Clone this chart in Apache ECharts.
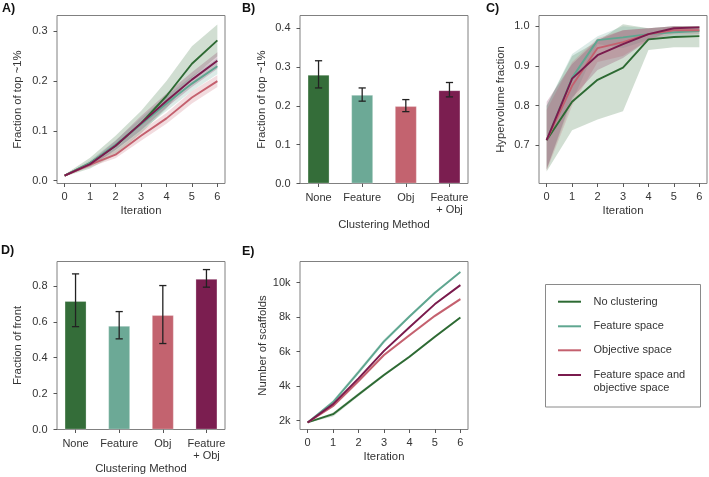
<!DOCTYPE html>
<html>
<head>
<meta charset="utf-8">
<script src="https://cdn.jsdelivr.net/npm/echarts@6/dist/echarts.min.js"></script>
<style>html,body{margin:0;padding:0;background:#fff;}#c{width:709px;height:477px;}</style>
</head>
<body>
<div id="c"></div>
<script>
// ---------- data ----------
const iterations = [0, 1, 2, 3, 4, 5, 6];
const seriesNames = ['No clustering', 'Feature space', 'Objective space', 'Feature space and\nobjective space'];
const barCats = ['None', 'Feature', 'Obj', 'Feature\n+ Obj'];
const barX = [0, 1, 2, 3];

// Panel A: fraction of top ~1% per iteration
const aNone = [0.010, 0.035, 0.070, 0.115, 0.170, 0.235, 0.282];
const aNoneLo = [0.008, 0.024, 0.052, 0.095, 0.145, 0.207, 0.250];
const aNoneHi = [0.012, 0.046, 0.090, 0.140, 0.200, 0.270, 0.314];
const aFeat = [0.010, 0.035, 0.072, 0.113, 0.155, 0.195, 0.230];
const aFeatLo = [0.009, 0.030, 0.062, 0.100, 0.140, 0.180, 0.214];
const aFeatHi = [0.011, 0.041, 0.081, 0.126, 0.170, 0.210, 0.246];
const aObj = [0.010, 0.032, 0.052, 0.090, 0.125, 0.167, 0.200];
const aObjLo = [0.009, 0.027, 0.045, 0.080, 0.114, 0.155, 0.188];
const aObjHi = [0.011, 0.037, 0.060, 0.100, 0.136, 0.180, 0.212];
const aBoth = [0.010, 0.033, 0.070, 0.115, 0.160, 0.203, 0.241];
const aBothLo = [0.009, 0.028, 0.061, 0.101, 0.147, 0.188, 0.225];
const aBothHi = [0.011, 0.038, 0.080, 0.130, 0.175, 0.218, 0.258];

// Panel B: fraction of top ~1% (final) per clustering method
const bVal = [0.280, 0.228, 0.199, 0.240];
const bLo = [0.246, 0.212, 0.185, 0.223];
const bHi = [0.316, 0.246, 0.216, 0.260];

// Panel C: hypervolume fraction
const cNone = [0.713, 0.810, 0.865, 0.896, 0.967, 0.973, 0.975];
const cNoneLo = [0.634, 0.738, 0.765, 0.786, 0.940, 0.947, 0.947];
const cNoneHi = [0.800, 0.925, 0.962, 1.005, 0.995, 1.000, 1.000];
const cFeat = [0.713, 0.870, 0.965, 0.972, 0.980, 0.985, 0.988];
const cFeatLo = [0.640, 0.810, 0.955, 0.945, 0.965, 0.975, 0.980];
const cFeatHi = [0.800, 0.930, 0.975, 1.000, 0.995, 1.000, 1.000];
const cObj = [0.713, 0.850, 0.945, 0.960, 0.980, 0.990, 0.990];
const cObjLo = [0.636, 0.800, 0.910, 0.925, 0.965, 0.980, 0.980];
const cObjHi = [0.790, 0.910, 0.970, 0.990, 0.995, 1.000, 1.000];
const cBoth = [0.713, 0.868, 0.927, 0.955, 0.980, 0.995, 0.997];
const cBothLo = [0.640, 0.820, 0.890, 0.920, 0.965, 0.990, 0.990];
const cBothHi = [0.810, 0.905, 0.965, 0.990, 0.995, 1.000, 1.000];

// Panel D: fraction of front
const dVal = [0.716, 0.577, 0.637, 0.839];
const dLo = [0.573, 0.505, 0.479, 0.793];
const dHi = [0.867, 0.657, 0.802, 0.891];

// Panel E: number of scaffolds
const eNone = [1900, 2380, 3520, 4650, 5710, 6870, 7980];
const eNoneLo = [1880, 2250, 3420, 4570, 5640, 6800, 7920];
const eNoneHi = [1920, 2480, 3620, 4730, 5780, 6940, 8040];
const eFeat = [1900, 3080, 4820, 6600, 8040, 9420, 10620];
const eFeatLo = [1880, 2950, 4680, 6480, 7950, 9340, 10560];
const eFeatHi = [1920, 3200, 4960, 6720, 8130, 9500, 10680];
const eObj = [1900, 2850, 4300, 5810, 6960, 8080, 9050];
const eObjLo = [1880, 2760, 4200, 5720, 6880, 8000, 8970];
const eObjHi = [1920, 2940, 4400, 5900, 7040, 8160, 9130];
const eBoth = [1900, 2960, 4450, 6050, 7420, 8760, 9860];
const eBothLo = [1880, 2880, 4370, 5980, 7360, 8700, 9810];
const eBothHi = [1920, 3040, 4530, 6120, 7480, 8820, 9910];

// tick labels
const iterTicks = [0, 1, 2, 3, 4, 5, 6];
const aYTicks = [0, 0.1, 0.2, 0.3];
const bYTicks = [0, 0.1, 0.2, 0.3, 0.4];
const cYTicks = [0.7, 0.8, 0.9, 1.0];
const dYTicks = [0, 0.2, 0.4, 0.6, 0.8];
const eYTicks = [2000, 4000, 6000, 8000, 10000];
const eYLabels = ['2k', '4k', '6k', '8k', '10k'];

// ---------- styling ----------
const lineColors = ['#2d6a33', '#5fa690', '#c4606e', '#7a1b4d'];
const barColors = ['#346d39', '#6ca996', '#c3636f', '#7b1e50'];
const FONT = "'Liberation Sans', Arial, sans-serif";
const TXT = '#333333';
const FRAME = '#808080';
const W = 168, H = 168;
const cols = [57, 300, 539];
const rows = [15.5, 261.5];

const grids = [
  [cols[0], rows[0]], [cols[1], rows[0]], [cols[2], rows[0]],
  [cols[0], rows[1]], [cols[1], rows[1]]
].map(([l, t]) => ({ left: l, top: t, width: W, height: H, show: true, borderColor: FRAME, borderWidth: 1, backgroundColor: 'transparent' }));

const tick = { show: true, inside: false, length: 3.5, lineStyle: { color: '#444', width: 0.9 } };
const lbl = { fontSize: 11, color: TXT, fontFamily: FONT };
const nameLbl = { fontSize: 11.3, color: TXT, fontFamily: FONT };

function xIter(gi) {
  return {
    type: 'value', gridIndex: gi, min: -0.3, max: 6.3,
    axisLine: { show: false, onZero: false }, splitLine: { show: false },
    axisTick: Object.assign({ customValues: iterTicks }, tick),
    axisLabel: Object.assign({ customValues: iterTicks, margin: 8, formatter: v => String(v) }, lbl),
    name: 'Iteration', nameLocation: 'middle', nameGap: 22,
    nameTextStyle: nameLbl
  };
}
function xCat(gi, gap) {
  return {
    type: 'value', gridIndex: gi, min: -0.425, max: 3.425,
    axisLine: { show: false, onZero: false }, splitLine: { show: false },
    axisTick: Object.assign({ customValues: barX }, tick),
    axisLabel: Object.assign({ customValues: barX, margin: 8, lineHeight: 12, formatter: v => barCats[Math.round(v)] }, lbl),
    name: 'Clustering Method', nameLocation: 'middle', nameGap: gap,
    nameTextStyle: nameLbl
  };
}
function yAx(gi, min, max, ticks, fmt, name, gap) {
  return {
    type: 'value', gridIndex: gi, min: min, max: max,
    axisLine: { show: false, onZero: false }, splitLine: { show: false },
    axisTick: Object.assign({ customValues: ticks }, tick),
    axisLabel: Object.assign({ customValues: ticks, margin: 9.5, formatter: fmt }, lbl),
    name: name, nameLocation: 'middle', nameGap: gap,
    nameTextStyle: nameLbl
  };
}

const xAxes = [xIter(0), xCat(1, 36), xIter(2), xCat(3, 34), xIter(4)];
const yAxes = [
  yAx(0, -0.006, 0.332, aYTicks, v => v.toFixed(1), 'Fraction of top ~1%', 34),
  yAx(1, 0, 0.4325, bYTicks, v => v.toFixed(1), 'Fraction of top ~1%', 32.5),
  yAx(2, 0.604, 1.027, cYTicks, v => v.toFixed(1), 'Hypervolume fraction', 32.5),
  yAx(3, 0, 0.936, dYTicks, v => v.toFixed(1), 'Fraction of front', 33.5),
  yAx(4, 1490, 11230, eYTicks, v => eYLabels[eYTicks.indexOf(Math.round(v))], 'Number of scaffolds', 30)
];

function band(ai, lo, hi, color, op) {
  return {
    type: 'custom', xAxisIndex: ai, yAxisIndex: ai, silent: true, z: 1,
    data: iterations.map((x, i) => [x, lo[i], hi[i]]),
    renderItem: function (params, api) {
      if (params.dataIndex !== 0) return null;
      const pts = [];
      for (let i = 0; i < iterations.length; i++) pts.push(api.coord([iterations[i], hi[i]]));
      for (let i = iterations.length - 1; i >= 0; i--) pts.push(api.coord([iterations[i], lo[i]]));
      return { type: 'polygon', shape: { points: pts }, style: { fill: color, opacity: op } };
    }
  };
}
function line(ai, vals, k) {
  return {
    type: 'line', name: seriesNames[k], xAxisIndex: ai, yAxisIndex: ai, z: 3,
    showSymbol: false, silent: true, animation: false,
    lineStyle: { color: lineColors[k], width: 1.9 }, itemStyle: { color: lineColors[k] },
    data: iterations.map((x, i) => [x, vals[i]])
  };
}
function bars(ai, vals) {
  return {
    type: 'bar', xAxisIndex: ai, yAxisIndex: ai, barWidth: 0.5 * W / 3.85, z: 2, silent: true,
    data: barX.map((x, i) => ({ value: [x, vals[i]], itemStyle: { color: barColors[i], borderColor: 'rgba(255,255,255,0.35)', borderWidth: 0.8 } }))
  };
}
function errs(ai, lo, hi) {
  return {
    type: 'custom', xAxisIndex: ai, yAxisIndex: ai, z: 4, silent: true,
    data: barX.map((x, i) => [x, lo[i], hi[i]]),
    renderItem: function (params, api) {
      const x = api.value(0);
      const p1 = api.coord([x, api.value(2)]);
      const p2 = api.coord([x, api.value(1)]);
      const cw = 3.6;
      const st = { stroke: '#222', lineWidth: 1.3 };
      return {
        type: 'group', children: [
          { type: 'line', shape: { x1: p1[0], y1: p1[1], x2: p2[0], y2: p2[1] }, style: st },
          { type: 'line', shape: { x1: p1[0] - cw, y1: p1[1], x2: p1[0] + cw, y2: p1[1] }, style: st },
          { type: 'line', shape: { x1: p2[0] - cw, y1: p2[1], x2: p2[0] + cw, y2: p2[1] }, style: st }
        ]
      };
    }
  };
}

const aSets = [[aNone, aNoneLo, aNoneHi], [aFeat, aFeatLo, aFeatHi], [aObj, aObjLo, aObjHi], [aBoth, aBothLo, aBothHi]];
const cSets = [[cNone, cNoneLo, cNoneHi], [cFeat, cFeatLo, cFeatHi], [cObj, cObjLo, cObjHi], [cBoth, cBothLo, cBothHi]];
const eSets = [[eNone, eNoneLo, eNoneHi], [eFeat, eFeatLo, eFeatHi], [eObj, eObjLo, eObjHi], [eBoth, eBothLo, eBothHi]];

const series = [];
[[0, aSets], [2, cSets], [4, eSets]].forEach(([ai, sets]) => {
  sets.forEach((s, k) => series.push(band(ai, s[1], s[2], lineColors[k], 0.22)));
  sets.forEach((s, k) => series.push(line(ai, s[0], k)));
});
series.push(bars(1, bVal), errs(1, bLo, bHi));
series.push(bars(3, dVal), errs(3, dLo, dHi));

// legend (drawn as graphic for exact layout)
const legY = [301.7, 326.3, 350.3, 375];
const graphic = [
  { type: 'rect', shape: { x: 545.5, y: 284.5, width: 155, height: 122.5 }, style: { fill: '#fff', stroke: '#8a8a8a', lineWidth: 1 }, z: 10 }
];
seriesNames.forEach((n, k) => {
  graphic.push({ type: 'line', shape: { x1: 558, y1: legY[k], x2: 581, y2: legY[k] }, style: { stroke: lineColors[k], lineWidth: 2 }, z: 11 });
  graphic.push({ type: 'text', x: 593.5, y: legY[k] - 6.5, style: { text: n, fill: TXT, font: '11px ' + FONT, lineHeight: 12.7, verticalAlign: 'top' }, z: 11 });
});
[['A)', 2, 8.5], ['B)', 242, 8.5], ['C)', 486, 8.5], ['D)', 1, 251], ['E)', 242, 251.5]].forEach(([t, x, y]) => {
  graphic.push({ type: 'text', x: x, y: y, style: { text: t, fill: '#111', font: 'bold 12.5px ' + FONT, verticalAlign: 'middle' }, z: 11 });
});

const chart = echarts.init(document.getElementById('c'), null, { renderer: 'canvas' });
chart.setOption({
  animation: false,
  backgroundColor: '#fff',
  textStyle: { fontFamily: FONT },
  grid: grids,
  xAxis: xAxes,
  yAxis: yAxes,
  series: series,
  graphic: graphic
});
</script>
</body>
</html>
